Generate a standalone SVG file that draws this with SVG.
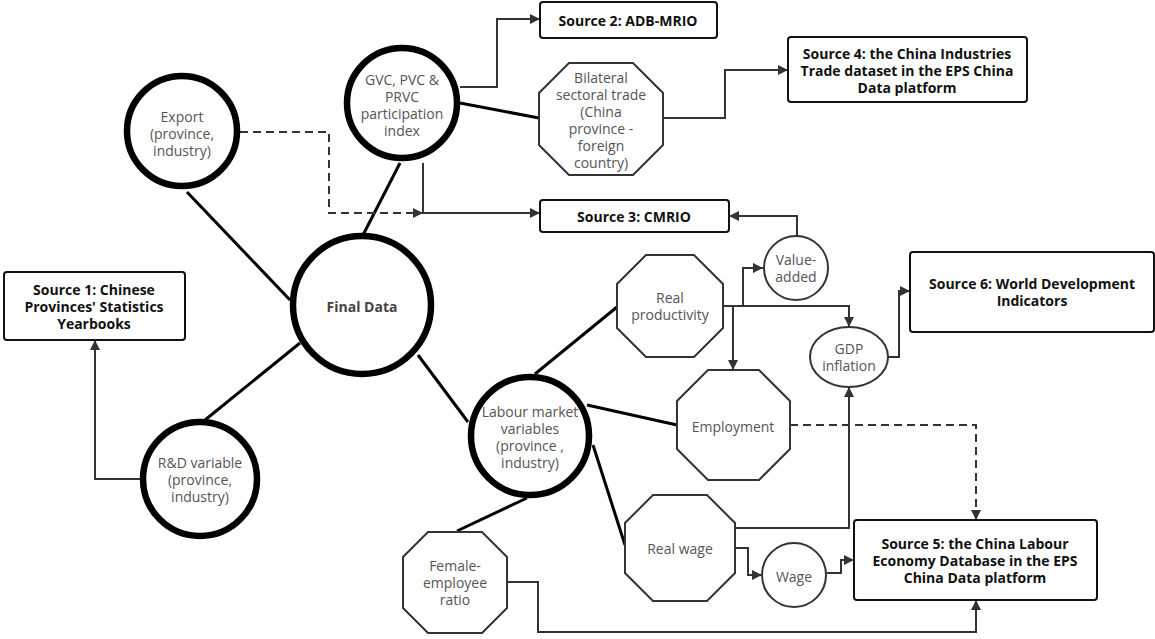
<svg xmlns="http://www.w3.org/2000/svg" width="1155" height="639" viewBox="0 0 1155 639">
<style>
.bg{fill:#fff}
.big{fill:#fff;stroke:#000;stroke-width:6.5}
.oct{fill:#fff;stroke:#333;stroke-width:2}
.sm{fill:#fff;stroke:#333;stroke-width:2}
.src{fill:#fff;stroke:#111;stroke-width:2}
.thick{fill:none;stroke:#000;stroke-width:3}
.con{fill:none;stroke:#333;stroke-width:2}
.dash{fill:none;stroke:#333;stroke-width:2;stroke-dasharray:8,5}
.t{font-family:"Open Sans","Noto Sans",sans-serif;font-size:14px;fill:#555;text-anchor:middle}
.b{font-family:"Open Sans","Noto Sans",sans-serif;font-size:14px;font-weight:bold;fill:#111;text-anchor:middle}
</style>
<defs>
<marker id="arr" viewBox="0 0 10 10" refX="10" refY="5" markerWidth="12" markerHeight="10" markerUnits="userSpaceOnUse" orient="auto">
<path d="M0,0 L10,5 L0,10 Z" fill="#333"/>
</marker>
</defs>
<rect class="bg" x="0" y="0" width="1155" height="639"/>
<g id="connectors">
<line class="thick" x1="187" y1="192" x2="290" y2="300"/>
<line class="thick" x1="400" y1="163" x2="362" y2="237"/>
<line class="thick" x1="205" y1="420" x2="300" y2="343"/>
<line class="thick" x1="418" y1="355" x2="468" y2="422"/>
<line class="thick" x1="535" y1="374" x2="617" y2="307"/>
<line class="thick" x1="587" y1="405" x2="677" y2="425"/>
<line class="thick" x1="593" y1="445" x2="625" y2="545"/>
<line class="thick" x1="527" y1="498" x2="457" y2="531"/>
<line class="thick" x1="460" y1="103" x2="539" y2="118"/>
<path class="con" d="M460,87 H497 V19 H540" marker-end="url(#arr)"/>
<path class="con" d="M663,118 H725 V70 H788" marker-end="url(#arr)"/>
<path class="con" d="M423,163 V213 H540" marker-end="url(#arr)"/>
<path class="dash" d="M240,132 H329 V213 H423" marker-end="url(#arr)"/>
<path class="con" d="M797,236 V216 H729" marker-end="url(#arr)"/>
<path class="con" d="M723,306 H743 V268 H763" marker-end="url(#arr)"/>
<path class="con" d="M723,306 H849 V327" marker-end="url(#arr)"/>
<path class="con" d="M733,306 V370" marker-end="url(#arr)"/>
<path class="con" d="M888,357 H899 V291 H910" marker-end="url(#arr)"/>
<path class="dash" d="M790,425 H976 V520" marker-end="url(#arr)"/>
<path class="con" d="M735,528 H849 V387" marker-end="url(#arr)"/>
<path class="con" d="M735,548 H748 V575 H762" marker-end="url(#arr)"/>
<path class="con" d="M827,573 H841 V560 H854" marker-end="url(#arr)"/>
<path class="con" d="M507,582 H538 V632 H976 V600" marker-end="url(#arr)"/>
<path class="con" d="M140,479 H95 V340" marker-end="url(#arr)"/>
</g>
<g id="final-data">
<circle class="big" cx="362" cy="305" r="69"/>
<text class="t" x="362" y="312" style="font-weight:bold;fill:#444">Final Data</text>
</g>
<g id="export">
<circle class="big" cx="182" cy="131" r="55"/>
<text class="t" x="182" y="122">Export</text>
<text class="t" x="182" y="139">(province,</text>
<text class="t" x="182" y="156">industry)</text>
</g>
<g id="gvc">
<circle class="big" cx="402" cy="103" r="55"/>
<text class="t" x="402" y="85">GVC, PVC &amp;</text>
<text class="t" x="402" y="102">PRVC</text>
<text class="t" x="402" y="119">participation</text>
<text class="t" x="402" y="136">index</text>
</g>
<g id="rd">
<circle class="big" cx="200" cy="479" r="57"/>
<text class="t" x="200" y="468">R&amp;D variable</text>
<text class="t" x="200" y="485">(province,</text>
<text class="t" x="200" y="502">industry)</text>
</g>
<g id="labour">
<circle class="big" cx="530" cy="436" r="59"/>
<text class="t" x="530" y="417">Labour market</text>
<text class="t" x="530" y="434">variables</text>
<text class="t" x="530" y="451">(province ,</text>
<text class="t" x="530" y="468">industry)</text>
</g>
<g id="bilateral">
<polygon class="oct" points="569,63 633,63 663,93 663,145 633,175 569,175 539,145 539,93"/>
<text class="t" x="601" y="83">Bilateral</text>
<text class="t" x="601" y="100">sectoral trade</text>
<text class="t" x="601" y="117">(China</text>
<text class="t" x="601" y="134">province -</text>
<text class="t" x="601" y="151">foreign</text>
<text class="t" x="601" y="168">country)</text>
</g>
<g id="real-productivity">
<polygon class="oct" points="646,255 694,255 723,284 723,328 694,357 646,357 617,328 617,284"/>
<text class="t" x="670" y="303">Real</text>
<text class="t" x="670" y="320">productivity</text>
</g>
<g id="employment">
<polygon class="oct" points="708,370 759,370 790,401 790,449 759,480 708,480 677,449 677,401"/>
<text class="t" x="733" y="432">Employment</text>
</g>
<g id="real-wage">
<polygon class="oct" points="653,495 707,495 735,523 735,573 707,601 653,601 625,573 625,523"/>
<text class="t" x="680" y="554">Real wage</text>
</g>
<g id="female">
<polygon class="oct" points="428,532 482,532 507,557 507,608 482,633 428,633 403,608 403,557"/>
<text class="t" x="455" y="571">Female-</text>
<text class="t" x="455" y="588">employee</text>
<text class="t" x="455" y="605">ratio</text>
</g>
<g id="value-added">
<circle class="sm" cx="796" cy="268" r="32"/>
<text class="t" x="796" y="265">Value-</text>
<text class="t" x="796" y="282">added</text>
</g>
<g id="gdp-inflation">
<ellipse class="sm" cx="849" cy="357" rx="39" ry="30"/>
<text class="t" x="849" y="354">GDP</text>
<text class="t" x="849" y="371">inflation</text>
</g>
<g id="wage">
<circle class="sm" cx="794" cy="575" r="32"/>
<text class="t" x="794" y="582">Wage</text>
</g>
<g id="source1">
<rect class="src" x="4" y="272" width="181" height="68" rx="3"/>
<text class="b" x="94" y="295">Source 1: Chinese</text>
<text class="b" x="94" y="312">Provinces' Statistics</text>
<text class="b" x="94" y="329">Yearbooks</text>
</g>
<g id="source2">
<rect class="src" x="540" y="2" width="177" height="36" rx="3"/>
<text class="b" x="628" y="26">Source 2: ADB-MRIO</text>
</g>
<g id="source3">
<rect class="src" x="540" y="200" width="189" height="32" rx="3"/>
<text class="b" x="634" y="222">Source 3: CMRIO</text>
</g>
<g id="source4">
<rect class="src" x="788" y="37" width="239" height="65" rx="3"/>
<text class="b" x="907" y="59">Source 4: the China Industries</text>
<text class="b" x="907" y="76">Trade dataset in the EPS China</text>
<text class="b" x="907" y="93">Data platform</text>
</g>
<g id="source5">
<rect class="src" x="854" y="520" width="243" height="80" rx="3"/>
<text class="b" x="975" y="549">Source 5: the China Labour</text>
<text class="b" x="975" y="566">Economy Database in the EPS</text>
<text class="b" x="975" y="583">China Data platform</text>
</g>
<g id="source6">
<rect class="src" x="910" y="252" width="244" height="80" rx="3"/>
<text class="b" x="1032" y="289">Source 6: World Development</text>
<text class="b" x="1032" y="306">Indicators</text>
</g>
</svg>
